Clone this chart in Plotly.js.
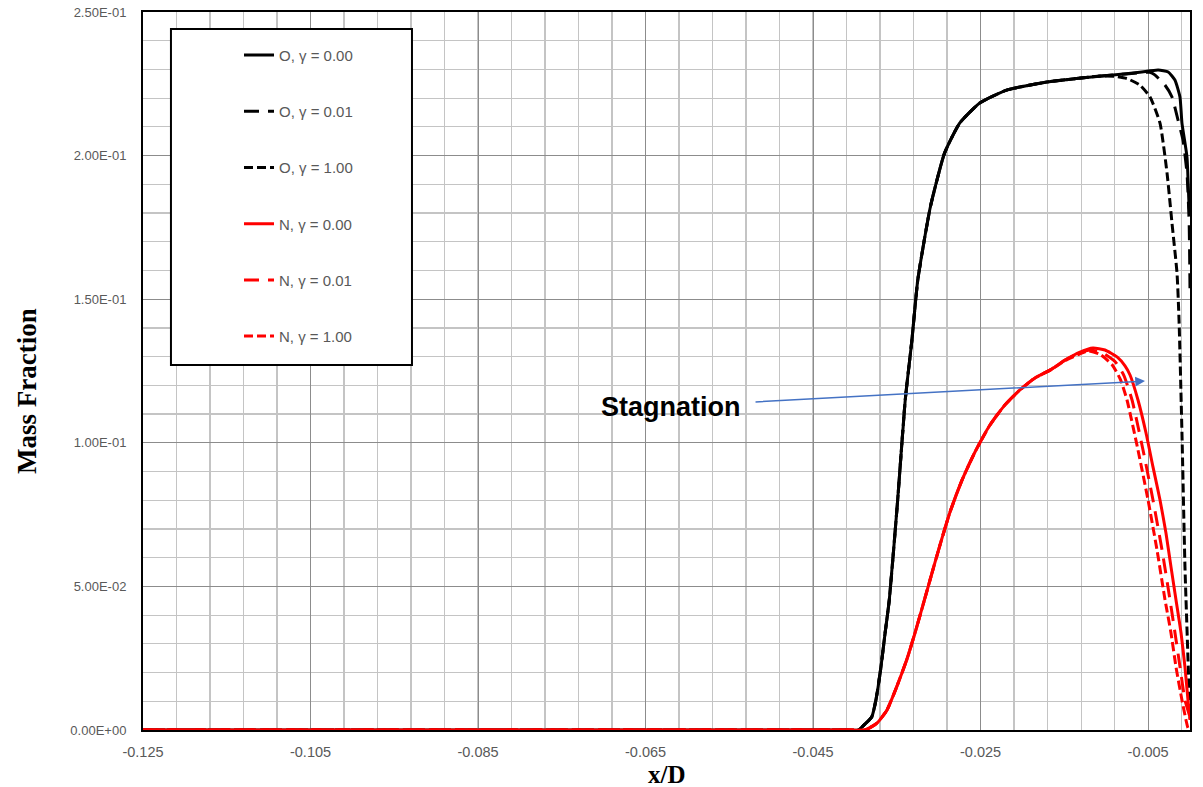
<!DOCTYPE html>
<html>
<head>
<meta charset="utf-8">
<script src="https://cdn.plot.ly/plotly-3.0.1.min.js"></script>
<style>html,body{margin:0;padding:0;background:#fff;}#chart{width:1203px;height:787px;}</style>
</head>
<body>
<div id="chart"></div>
<script>
// ---- data ----
const seriesNames = ["O, γ = 0.00", "O, γ = 0.01", "O, γ = 1.00", "N, γ = 0.00", "N, γ = 0.01", "N, γ = 1.00"];

const xO0 = [-0.125, -0.100, -0.075, -0.055, -0.045, -0.0415, -0.0396, -0.0390, -0.0380, -0.0375, -0.0369, -0.0364, -0.0359, -0.0349, -0.0340, -0.0332, -0.0325, -0.0310, -0.0293, -0.0275, -0.0251, -0.0219, -0.0171, -0.0130, -0.0092, -0.0060, -0.0038, -0.0026, -0.0018, -0.0012, -0.00096, -0.00036, -0.0001, 0.0];
const yO0 = [0, 0, 0, 0, 0, 0, 0, 0.0015, 0.0045, 0.0104, 0.0219, 0.0338, 0.0453, 0.0801, 0.1149, 0.1358, 0.1567, 0.1821, 0.2009, 0.2113, 0.2183, 0.2228, 0.2256, 0.2270, 0.2281, 0.2290, 0.2298, 0.2291, 0.2263, 0.2204, 0.2113, 0.1995, 0.1821, 0.1800];

const xO001 = [-0.125, -0.100, -0.075, -0.055, -0.045, -0.0415, -0.0396, -0.0390, -0.0380, -0.0375, -0.0369, -0.0364, -0.0359, -0.0349, -0.0340, -0.0332, -0.0325, -0.0310, -0.0293, -0.0275, -0.0251, -0.0219, -0.0171, -0.0130, -0.0092, -0.0060, -0.0048, -0.0042, -0.0030, -0.00215, -0.00143, -0.00084, -0.00036, -0.0001, 0.0];
const yO001 = [0, 0, 0, 0, 0, 0, 0, 0.0015, 0.0045, 0.0104, 0.0219, 0.0338, 0.0453, 0.0801, 0.1149, 0.1358, 0.1567, 0.1821, 0.2009, 0.2113, 0.2183, 0.2228, 0.2256, 0.2270, 0.2281, 0.2288, 0.2290, 0.2281, 0.2246, 0.2204, 0.2124, 0.2054, 0.1939, 0.1765, 0.1532];

const xO1 = [-0.125, -0.100, -0.075, -0.055, -0.045, -0.0415, -0.0396, -0.0390, -0.0380, -0.0375, -0.0369, -0.0364, -0.0359, -0.0349, -0.0340, -0.0332, -0.0325, -0.0310, -0.0293, -0.0275, -0.0251, -0.0219, -0.0171, -0.0130, -0.0107, -0.0090, -0.0075, -0.0060, -0.00477, -0.00358, -0.00274, -0.00215, -0.00155, -0.00131, -0.00096, -0.00060, -0.0001, 0.0];
const yO1 = [0, 0, 0, 0, 0, 0, 0, 0.0015, 0.0045, 0.0104, 0.0219, 0.0338, 0.0453, 0.0801, 0.1149, 0.1358, 0.1567, 0.1821, 0.2009, 0.2113, 0.2183, 0.2228, 0.2256, 0.2270, 0.2277, 0.2276, 0.2268, 0.2246, 0.2204, 0.2113, 0.1939, 0.1765, 0.1591, 0.1428, 0.1034, 0.0568, 0.0129, 0.0040];

const xN0 = [-0.125, -0.100, -0.075, -0.055, -0.045, -0.0410, -0.0388, -0.03737, -0.03617, -0.03498, -0.03379, -0.03283, -0.03188, -0.03080, -0.02985, -0.02865, -0.02722, -0.02567, -0.02388, -0.02209, -0.02030, -0.01850, -0.01671, -0.01492, -0.01313, -0.01158, -0.01015, -0.00871, -0.00776, -0.00716, -0.00621, -0.00525, -0.00442, -0.00358, -0.00287, -0.00227, -0.00167, -0.00107, -0.00060, -0.00024, 0.0];
const yN0 = [0, 0, 0, 0, 0, 0, 0, 0.0024, 0.0070, 0.0153, 0.0247, 0.0338, 0.0435, 0.0547, 0.0644, 0.0759, 0.0870, 0.0968, 0.1062, 0.1132, 0.1184, 0.1226, 0.1253, 0.1288, 0.1316, 0.1330, 0.1323, 0.1299, 0.1268, 0.1236, 0.1149, 0.1034, 0.0916, 0.0801, 0.0686, 0.0568, 0.0453, 0.0338, 0.0219, 0.0104, 0.0035];

const xN001 = [-0.125, -0.100, -0.075, -0.055, -0.045, -0.0410, -0.0388, -0.03737, -0.03617, -0.03498, -0.03379, -0.03283, -0.03188, -0.03080, -0.02985, -0.02865, -0.02722, -0.02567, -0.02388, -0.02209, -0.02030, -0.01850, -0.01671, -0.01492, -0.01313, -0.01194, -0.01045, -0.00896, -0.00790, -0.00692, -0.00561, -0.00442, -0.00334, -0.00239, -0.00179, -0.00119, -0.00060, 0.0];
const yN001 = [0, 0, 0, 0, 0, 0, 0, 0.0024, 0.0070, 0.0153, 0.0247, 0.0338, 0.0435, 0.0547, 0.0644, 0.0759, 0.0870, 0.0968, 0.1062, 0.1132, 0.1184, 0.1226, 0.1253, 0.1288, 0.1314, 0.1323, 0.1313, 0.1283, 0.1235, 0.1149, 0.0975, 0.0801, 0.0627, 0.0453, 0.0338, 0.0219, 0.0104, 0.0045];

const xN1 = [-0.125, -0.100, -0.075, -0.055, -0.045, -0.0410, -0.0388, -0.03737, -0.03617, -0.03498, -0.03379, -0.03283, -0.03188, -0.03080, -0.02985, -0.02865, -0.02722, -0.02567, -0.02388, -0.02209, -0.02030, -0.01850, -0.01671, -0.01492, -0.01313, -0.01218, -0.01075, -0.00930, -0.00830, -0.00752, -0.00621, -0.00501, -0.00394, -0.00298, -0.00227, -0.00167, -0.00096, -0.00048, -0.00024, 0.0];
const yN1 = [0, 0, 0, 0, 0, 0, 0, 0.0024, 0.0070, 0.0153, 0.0247, 0.0338, 0.0435, 0.0547, 0.0644, 0.0759, 0.0870, 0.0968, 0.1062, 0.1132, 0.1184, 0.1226, 0.1253, 0.1286, 0.1310, 0.1320, 0.1308, 0.1272, 0.1220, 0.1149, 0.0975, 0.0801, 0.0627, 0.0453, 0.0338, 0.0219, 0.0104, 0.0035, 0.0007, 0.0];

const xTickVals = [-0.125, -0.105, -0.085, -0.065, -0.045, -0.025, -0.005];
const xTickText = ["-0.125", "-0.105", "-0.085", "-0.065", "-0.045", "-0.025", "-0.005"];
const yTickVals = [0, 0.05, 0.10, 0.15, 0.20, 0.25];
const yTickText = ["0.00E+00", "5.00E-02", "1.00E-01", "1.50E-01", "2.00E-01", "2.50E-01"];

const annotationText = "Stagnation";
const xAxisTitle = "x/D";
const yAxisTitle = "Mass Fraction";

// ---- styles ----
const xs = [xO0, xO001, xO1, xN0, xN001, xN1];
const ys = [yO0, yO001, yO1, yN0, yN001, yN1];
const colors = ["#000000", "#000000", "#000000", "#FF0000", "#FF0000", "#FF0000"];
const dashes = ["solid", "15px,9px", "9px,4px", "solid", "15px,9px", "9px,4px"];

const traces = xs.map((x, i) => ({
  type: "scatter",
  mode: "lines",
  x: x,
  y: ys[i],
  name: seriesNames[i],
  legendgroup: "g" + i,
  line: {color: colors[i], width: 3, dash: dashes[i], shape: "spline", smoothing: 0.5}
}));

const gridMajor = "#8c8c8c";
const gridMinor = "#c4c4c4";
const tickFont = {family: "Liberation Sans, Arial, sans-serif", size: 14.5, color: "#595959"};
const titleFontFamily = "Liberation Serif, Times New Roman, serif";

const layout = {
  width: 1203,
  height: 787,
  margin: {l: 143, r: 13, t: 12, b: 57, pad: 0},
  paper_bgcolor: "#ffffff",
  plot_bgcolor: "#ffffff",
  showlegend: true,
  legend: {
    x: 0.0917, y: 0.9626, xanchor: "left", yanchor: "top",
    bgcolor: "rgba(0,0,0,0)", borderwidth: 0,
    font: {family: "Liberation Sans, Arial, sans-serif", size: 15, color: "#595959"},
    tracegroupgap: 33.7,
    traceorder: "grouped"
  },
  xaxis: {
    range: [-0.125, 0],
    tickmode: "array", tickvals: xTickVals, ticktext: xTickText,
    showgrid: true, gridcolor: gridMajor, gridwidth: 1,
    minor: {tickmode: "linear", tick0: -0.125, dtick: 0.004, showgrid: true, gridcolor: gridMinor, gridwidth: 1.2, ticks: ""},
    zeroline: false,
    showline: true, linecolor: "#000000", linewidth: 2, mirror: true,
    ticks: "", tickfont: tickFont, ticklabelstandoff: 8,
    layer: "below traces"
  },
  yaxis: {
    range: [0, 0.25],
    tickmode: "array", tickvals: yTickVals, ticktext: yTickText,
    showgrid: true, gridcolor: gridMajor, gridwidth: 1,
    minor: {tickmode: "linear", tick0: 0, dtick: 0.01, showgrid: true, gridcolor: gridMinor, gridwidth: 1.2, ticks: ""},
    zeroline: false,
    showline: true, linecolor: "#000000", linewidth: 2, mirror: true,
    ticks: "", tickfont: Object.assign({}, tickFont, {size: 13}), ticklabelstandoff: 12,
    layer: "below traces"
  },
  shapes: [
    {type: "rect", xref: "paper", yref: "paper", x0: 0.0267, x1: 0.2569, y0: 0.5084, y1: 0.9763,
     line: {color: "#000000", width: 2}, fillcolor: "#ffffff", layer: "above"}
  ],
  annotations: [
    {x: 0.5, y: -0.0613, xref: "paper", yref: "paper", xanchor: "center", yanchor: "middle",
     text: "<b>" + xAxisTitle + "</b>", showarrow: false,
     font: {family: titleFontFamily, size: 25, color: "#000000"}},
    {x: -0.1108, y: 0.4721, xref: "paper", yref: "paper", xanchor: "center", yanchor: "middle", textangle: -90,
     text: "<b>" + yAxisTitle + "</b>", showarrow: false,
     font: {family: titleFontFamily, size: 27, color: "#000000"}},
    {x: -0.0620, y: 0.1125, xref: "x", yref: "y", text: "<b>" + annotationText + "</b>", showarrow: false,
     font: {family: "Liberation Sans, Arial, sans-serif", size: 27, color: "#000000"}},
    {x: -0.00537, y: 0.1215, xref: "x", yref: "y", ax: -0.05205, ay: 0.1142, axref: "x", ayref: "y",
     text: "", showarrow: true, arrowhead: 2, arrowsize: 1.3, arrowwidth: 1.5, arrowcolor: "#4472C4", standoff: 0, startstandoff: 0}
  ]
};

Plotly.newPlot("chart", traces, layout, {displayModeBar: false, staticPlot: true});
</script>
</body>
</html>
